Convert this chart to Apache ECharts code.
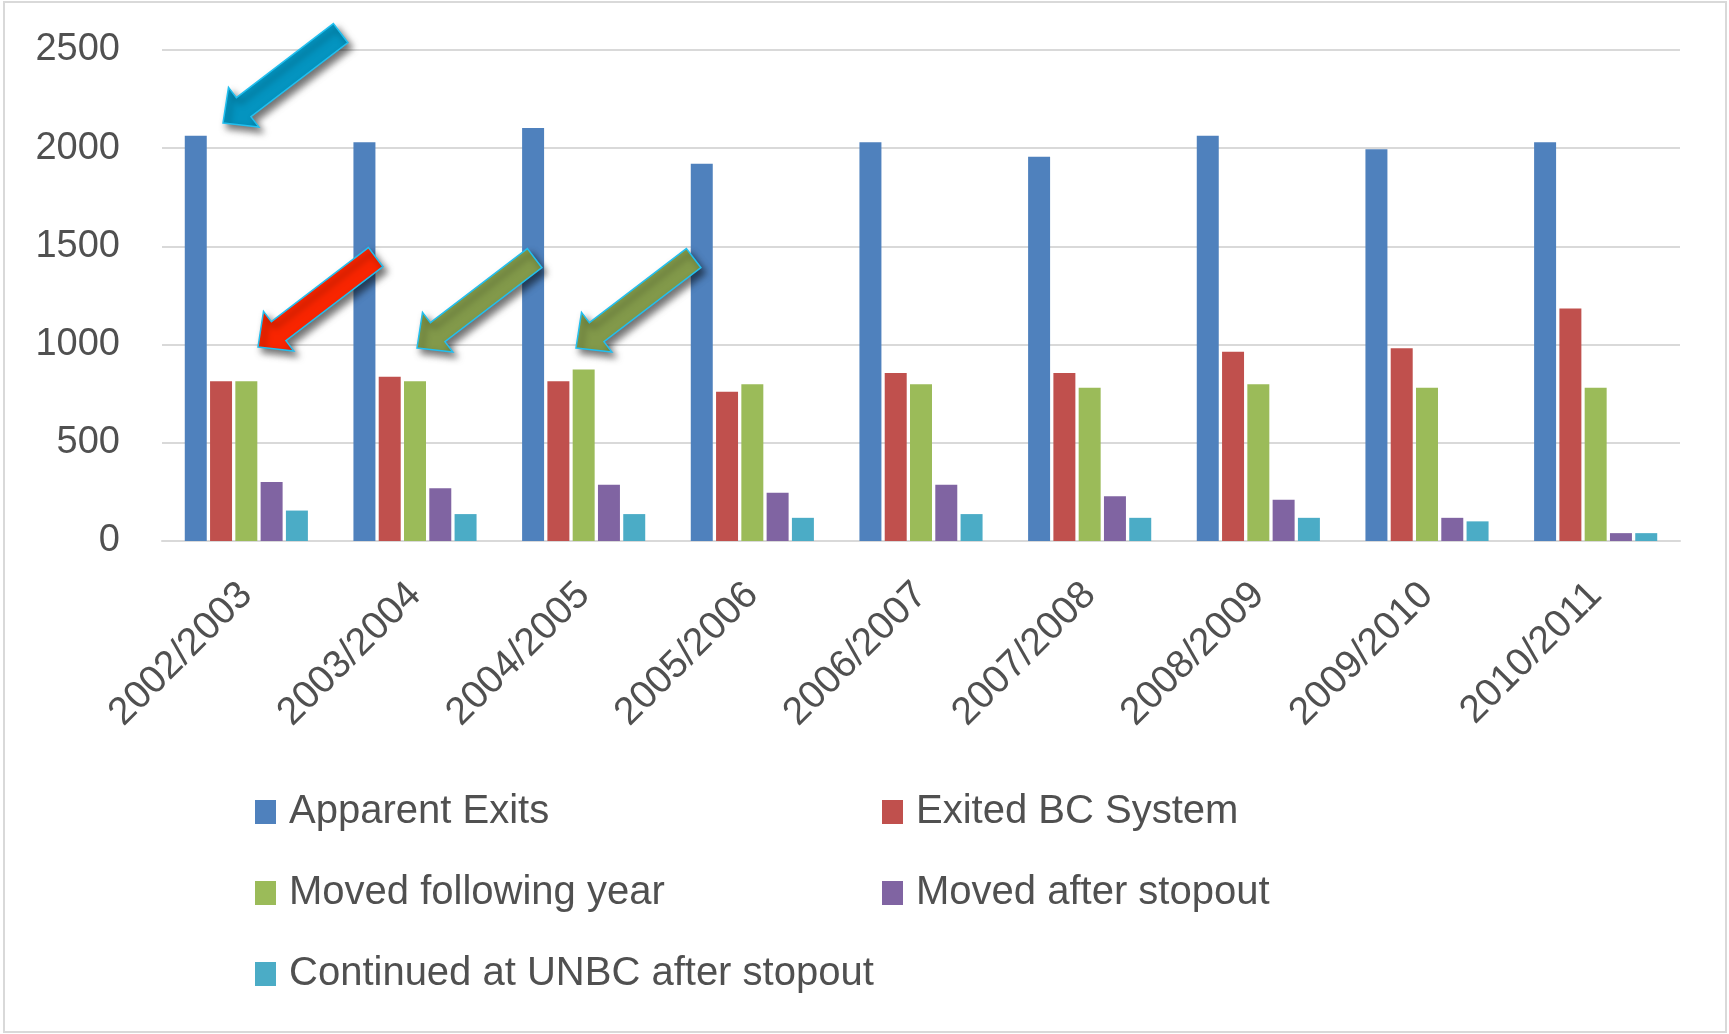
<!DOCTYPE html>
<html>
<head>
<meta charset="utf-8">
<script src="https://cdn.jsdelivr.net/npm/echarts@6/dist/echarts.min.js"></script>
<style>
  html, body { margin: 0; padding: 0; background: #ffffff; }
  #chart { width: 1729px; height: 1034px; }
</style>
</head>
<body>
<div id="chart"></div>
<script>
// ---- data ----
const categories = ['2002/2003', '2003/2004', '2004/2005', '2005/2006', '2006/2007', '2007/2008', '2008/2009', '2009/2010', '2010/2011'];
const apparentExits     = [2064, 2030, 2103, 1921, 2030, 1957, 2064, 1995, 2030];
const exitedBCSystem    = [814, 836, 814, 760, 855, 855, 964, 982, 1184];
const movedFollowingYr  = [814, 814, 873, 798, 798, 780, 798, 780, 780];
const movedAfterStopout = [301, 268, 286, 246, 286, 228, 210, 118, 40];
const continuedAtUNBC   = [155, 137, 137, 118, 137, 118, 118, 100, 40];
const seriesNames = ['Apparent Exits', 'Exited BC System', 'Moved following year', 'Moved after stopout', 'Continued at UNBC after stopout'];
const yTicks = [0, 500, 1000, 1500, 2000, 2500];

// ---- styling ----
const colors = ['#4F81BD', '#C0504D', '#9BBB59', '#8064A2', '#4BACC6'];
const FONT = 'Liberation Sans, Arial, sans-serif';
const TXT = '#505050';

function arrowPoints(tipX, tipY) {
  const ux = -0.795, uy = 0.607, nx = 0.607, ny = 0.795;
  const L = 148, HL = 26, HW = 25, SW = 12;
  const bx = tipX - ux * HL, by = tipY - uy * HL;
  const tx = tipX - ux * L, ty = tipY - uy * L;
  return [[tipX, tipY], [bx + nx * HW, by + ny * HW], [bx + nx * SW, by + ny * SW],
          [tx + nx * SW, ty + ny * SW], [tx - nx * SW, ty - ny * SW],
          [bx - nx * SW, by - ny * SW], [bx - nx * HW, by - ny * HW]];
}
function arrow(tipX, tipY, fill) {
  return {
    type: 'polygon', z: 100,
    shape: { points: arrowPoints(tipX, tipY) },
    style: { fill: fill, stroke: '#22BFEF', lineWidth: 1.5,
             shadowBlur: 7, shadowOffsetX: 4, shadowOffsetY: 5, shadowColor: 'rgba(0,0,0,0.55)' }
  };
}

const dataSets = [apparentExits, exitedBCSystem, movedFollowingYr, movedAfterStopout, continuedAtUNBC];
const chart = echarts.init(document.getElementById('chart'), null, { renderer: 'canvas' });

const legendBase = {
  orient: 'vertical', icon: 'rect', itemWidth: 21, itemHeight: 24, itemGap: 41, padding: 0,
  selectedMode: false,
  textStyle: { fontFamily: FONT, fontSize: 40, color: TXT, lineHeight: 40, padding: [0, 0, 0, 8] }
};

chart.setOption({
  animation: false,
  backgroundColor: '#ffffff',
  color: colors,
  grid: { left: 162, top: 50, width: 1518, height: 491, containLabel: false },
  legend: [
    Object.assign({}, legendBase, { left: 255, top: 792, data: [seriesNames[0], seriesNames[2], seriesNames[4]] }),
    Object.assign({}, legendBase, { left: 882, top: 792, data: [seriesNames[1], seriesNames[3]] })
  ],
  xAxis: {
    type: 'category', data: categories,
    axisTick: { show: false },
    axisLine: { lineStyle: { color: '#D9D9D9', width: 2 } },
    axisLabel: { rotate: 45, margin: 48, fontFamily: FONT, fontSize: 39, color: TXT, interval: 0 }
  },
  yAxis: {
    type: 'value', min: 0, max: yTicks[yTicks.length - 1], interval: 500,
    axisLine: { show: false }, axisTick: { show: false },
    splitLine: { lineStyle: { color: '#D9D9D9', width: 2 } },
    axisLabel: { margin: 42, fontFamily: FONT, fontSize: 38, color: TXT, formatter: v => String(v) }
  },
  series: seriesNames.map((n, i) => ({
    name: n, type: 'bar', data: dataSets[i],
    barGap: '15%', barCategoryGap: '27%'
  })),
  graphic: [
    { type: 'rect', z: -10, silent: true, shape: { x: 4, y: 2, width: 1722, height: 1030 },
      style: { fill: 'none', stroke: '#D9D9D9', lineWidth: 2 } },
    arrow(223, 123, '#0494C0'),
    arrow(258, 347, '#F82500'),
    arrow(417, 348, '#82994A'),
    arrow(576, 348, '#82994A')
  ]
});
</script>
</body>
</html>
